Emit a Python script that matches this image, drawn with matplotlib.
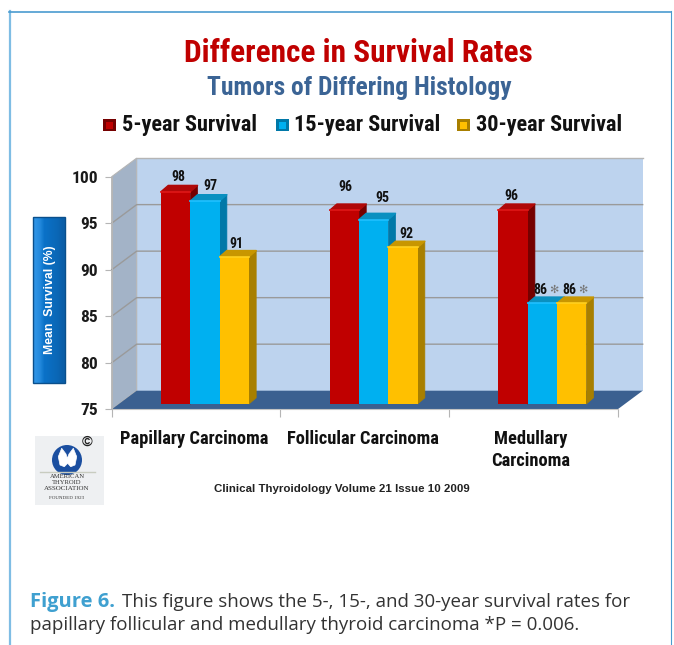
import numpy as np
import matplotlib
matplotlib.use('Agg')
import matplotlib.pyplot as plt
from matplotlib import font_manager
from matplotlib.colors import LinearSegmentedColormap
from matplotlib.patches import Polygon, Rectangle, Ellipse

names = set(f.name for f in font_manager.fontManager.ttflist)


def pick(*fams):
    for f in fams:
        if f in names:
            return f
    return 'Liberation Sans'


narrow = pick('Roboto Condensed', 'Liberation Sans Narrow', 'Archivo Narrow')
body = 'Open Sans'

categories = ['Papillary Carcinoma', 'Follicular Carcinoma', 'Medullary\nCarcinoma']
series_names = ['5-year Survival', '15-year Survival', '30-year Survival']
survival_5 = [98, 96, 96]
survival_15 = [97, 95, 86]
survival_30 = [91, 92, 86]
y_ticks = [75, 80, 85, 90, 95, 100]

front = ['#c00000', '#00b0f0', '#ffc000']
side = ['#750000', '#0078a8', '#a87f00']
top = ['#b00808', '#0a90c0', '#c89600']
shine = ['#e01818', '#20c0ff', '#ffd020']

# label nudges in pixels (right, up) from the top of each bar, [series][category]
label_dx = [[3, 1, -2], [5, 9, -2], [2, 3, -2]]
label_dy = [[15, 23, 14], [15, 22, 13], [13, 13, 13]]

W, H = 674, 645
fig = plt.figure(figsize=(W / 100, H / 100), dpi=100, facecolor='white')

# whole page in pixels, used for the frame, titles and caption
page = fig.add_axes([0, 0, 1, 1])
page.axis('off')

page.plot([9.5, 9.5], [645, 11], color='#7fbde4', lw=1.6)
page.plot([9, 671], [11.5, 11.5], color='#4a9bcf', lw=1.2)
page.plot([671, 671], [11, 645], color='#4a9bcf', lw=0.8)

page.text(358.5, 53, 'Difference in Survival Rates', color='#c00000', fontsize=22.5,
          fontweight='bold', family=narrow, ha='center', va='center')
page.text(359, 87.5, 'Tumors of Differing Histology', color='#3b6495', fontsize=18.4,
          fontweight='bold', family=narrow, ha='center', va='center')

for name, c, s, xm, xt in zip(series_names, front, side, [103, 276, 457], [121.5, 294, 476]):
    page.add_patch(Rectangle((xm, 119), 12.5, 12, fc=s, ec='none'))
    page.add_patch(Rectangle((xm + 2.5, 121.5), 7.5, 7, fc=c, ec='none'))
    page.text(xt, 125.5, name, fontsize=16, fontweight='bold', family=narrow,
              color='#111111', ha='left', va='center')

# blue y label box
page.imshow(np.array([[0.0, 0.15, 0.5, 0.6, 0.7, 0.8, 1.0]]), extent=(33, 65, 383, 217), aspect='auto',
            cmap=LinearSegmentedColormap.from_list('b', ['#2f94e6', '#0a72c8', '#0a5ea8']),
            interpolation='bilinear', zorder=2)
page.add_patch(Rectangle((33, 217), 32, 166, fc='none', ec='#0a4f8c', lw=1, zorder=3))
page.text(50.5, 299.5, 'Mean  Survival (%)', rotation=90, color='white', fontsize=8.8, fontweight='bold',
          family='Liberation Sans', ha='center', va='center', zorder=4)

# logo
page.add_patch(Rectangle((35, 436), 69, 69, fc='#eef0f2', ec='none'))
page.add_patch(Ellipse((67, 460), 30, 30, fc='#1b4fa0', ec='none'))
page.add_patch(Polygon([(58.3, 456.7), (61.7, 448.3), (66, 454), (67.3, 458.3), (69, 454), (73.3, 448.3),
                        (76.7, 456.7), (75, 465), (70.7, 466.7), (67.7, 463.3), (64.3, 466.7), (60, 465)],
                       closed=True, fc='white', ec='white', lw=0.5, joinstyle='round'))
page.text(87, 442, '©', fontsize=10.5, fontweight='bold', color='#222222', ha='center', va='center',
          family='Liberation Sans')
page.plot([40, 95], [472, 472], color='#c8ccc0', lw=1)
for line, yy, fs in zip(['AMERICAN', 'THYROID', 'ASSOCIATION', 'FOUNDED 1923'],
                        [477, 483, 489, 498], [4.8, 4.8, 5, 3.6]):
    page.text(67, yy, line, fontsize=fs, family='Liberation Serif', color='#333333', ha='center', va='center')

page.text(342, 489, 'Clinical Thyroidology Volume 21 Issue 10 2009', fontsize=8.25, fontweight='bold',
          family='Liberation Sans', color='#222222', ha='center', va='center')

page.text(30, 602, 'Figure 6.', fontsize=14.5, fontweight='bold', color='#3fa0d0',
          family=body, ha='left', va='center')
page.text(122, 602, 'This figure shows the 5-, 15-, and 30-year survival rates for', fontsize=13.5,
          color='#333333', family=body, ha='left', va='center')
page.text(30, 625, 'papillary follicular and medullary thyroid carcinoma *P = 0.006.', fontsize=13.5,
          color='#333333', family=body, ha='left', va='center')

for xt, lab in zip([194, 362.5, 531], categories):
    page.text(xt, 439 if '\n' not in lab else 450, lab, fontsize=13.3, fontweight='bold', family=narrow,
              color='#111111', ha='center', va='center', linespacing=1.25)

page.set_xlim(0, W)
page.set_ylim(H, 0)

# chart axes: the front plane of the 3D box
x0, x1, ytop, ybot = 111.7, 617.7, 176.7, 409.3
ax = fig.add_axes([x0 / W, 1 - ybot / H, (x1 - x0) / W, (ybot - ytop) / H])
ax.patch.set_alpha(0)
ax.set_xlim(-0.5, 2.5)
ax.set_ylim(75, 100)
for s in ax.spines.values():
    s.set_visible(False)

px_x = (x1 - x0) / 3.0
px_y = (ybot - ytop) / 25.0


def dx(p):
    return p / px_x


def dy(p):
    return p / px_y


depth_x, depth_y = dx(25), dy(18.6)

# back wall, side wall, floor
ax.add_patch(Polygon([(-0.5 + depth_x, 75 + depth_y), (2.5 + depth_x, 75 + depth_y),
                      (2.5 + depth_x, 100 + depth_y), (-0.5 + depth_x, 100 + depth_y)],
                     closed=True, fc='#bdd3ee', ec='none', clip_on=False, zorder=1))
ax.plot([-0.5 + depth_x, 2.5 + depth_x], [100 + depth_y, 100 + depth_y], color='#b5b5b5', lw=1,
        clip_on=False, zorder=1.2)
ax.add_patch(Polygon([(-0.5, 75), (-0.5 + depth_x, 75 + depth_y),
                      (-0.5 + depth_x, 100 + depth_y), (-0.5, 100)],
                     closed=True, fc='#a3b3c7', ec='#b5b5b5', lw=0.8, clip_on=False, zorder=1))
ax.add_patch(Polygon([(-0.5, 75), (2.5, 75), (2.5 + depth_x, 75 + depth_y),
                      (-0.5 + depth_x, 75 + depth_y)],
                     closed=True, fc='#3b6090', ec='none', clip_on=False, zorder=2))

for t in y_ticks[1:-1]:
    ax.plot([-0.5, -0.5 + depth_x, 2.5 + depth_x], [t, t + depth_y, t + depth_y],
            color='#9a9a9a', lw=1.0, clip_on=False, zorder=1.5)

# bars, set back from the front plane
bar_w = 29.3 / px_x
shift_x = dx(9)
base = 75 + dy(5.3)
top_up = dy(3.7)
side_x, side_y = dx(7.2), dy(6.2)
values = [survival_5, survival_15, survival_30]

for i, vals in enumerate(values):
    for j, v in enumerate(vals):
        left = j + (i - 1.5) * bar_w + shift_x
        z = 3 + i + j * 5
        h = v + top_up
        ax.add_patch(Polygon([(left + bar_w, base), (left + bar_w + side_x, base + side_y),
                              (left + bar_w + side_x, h + side_y), (left + bar_w, h)],
                             closed=True, fc=side[i], ec=side[i], lw=0.5, joinstyle='round',
                             clip_on=False, zorder=z))
        ax.add_patch(Polygon([(left, h), (left + side_x, h + side_y), (left + bar_w + side_x, h + side_y),
                              (left + bar_w, h)],
                             closed=True, fc=top[i], ec=top[i], lw=1, joinstyle='round',
                             clip_on=False, zorder=z))
        ax.bar(left, h - base, bottom=base, width=bar_w, align='edge', color=front[i], zorder=z + 0.5)
        ax.plot([left, left + bar_w], [h, h], color=shine[i], lw=1.2, clip_on=False, zorder=z + 0.6)
        lx = left + bar_w / 2 + dx(label_dx[i][j])
        ly = h + dy(label_dy[i][j])
        ax.text(lx, ly, str(v), fontsize=10, fontweight='bold', family=narrow,
                color='#111111', ha='center', va='center', zorder=30)
        if j == 2 and i > 0:
            ax.text(lx + dx(13), ly, '✻', fontsize=8, color='#777777', family='DejaVu Sans',
                    ha='center', va='center', zorder=30)

ax.set_yticks(y_ticks)
ax.set_yticklabels(y_ticks, fontsize=12.5, fontweight='bold', family=narrow, color='#1a1a1a')
ax.set_xticks([-0.5, 0.5, 1.5, 2.5])
ax.set_xticklabels([])
ax.tick_params(axis='y', length=5, color='#b5b5b5', pad=5)
ax.tick_params(axis='x', length=6, color='#b5b5b5')
ax.plot([-0.5, 2.5], [75, 75], color='#c4c4c4', lw=0.8, clip_on=False, zorder=2.5)
ax.plot([-0.5, -0.5], [75, 100], color='#b5b5b5', lw=0.8, clip_on=False, zorder=2.5)

fig.savefig('out.png', dpi=100)
